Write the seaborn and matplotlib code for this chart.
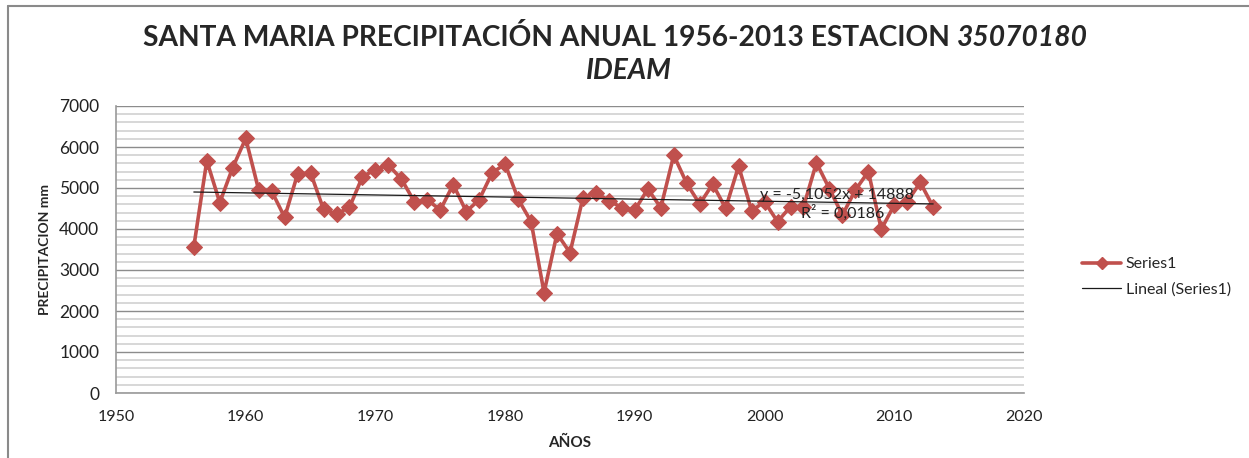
import numpy as np
import pandas as pd
import seaborn as sns
import matplotlib.pyplot as plt
from matplotlib.lines import Line2D

# --- DATA ---
years = list(range(1956, 2014))
precip_mm = [
    3570, 5665, 4645, 5500, 6210, 4950, 4925, 4285, 5340, 5370,
    4480, 4365, 4530, 5275, 5450, 5560, 5220, 4665, 4710, 4465,
    5085, 4425, 4715, 5370, 5585, 4730, 4180, 2450, 3890, 3420,
    4765, 4885, 4690, 4520, 4465, 4975, 4520, 5800, 5110, 4610,
    5095, 4505, 5535, 4445, 4665, 4180, 4545, 4540, 5615, 4980,
    4340, 4950, 5400, 3995, 4585, 4665, 5135, 4540,
]
trend_slope = -5.1052
trend_intercept = 14888
trend_r2 = 0.0186
x_ticks = [1950, 1960, 1970, 1980, 1990, 2000, 2010, 2020]
y_ticks = [0, 1000, 2000, 3000, 4000, 5000, 6000, 7000]
# --------------------------------------

sns.set_theme(style="white")
plt.rcParams['font.family'] = ['Lato', 'DejaVu Sans']

RED = '#C0504D'
W, H = 1249, 458

df = pd.DataFrame({'year': years, 'precip': precip_mm})
trend_x = np.array([years[0], years[-1]])
trend_y = trend_slope * trend_x + trend_intercept

fig = plt.figure(figsize=(W / 100, H / 100), dpi=100)
ax = fig.add_axes([116 / W, 1 - 393 / H, (1024 - 116) / W, (393 - 106) / H])

# gridlines: minor every 200, major every 1000
ax.set_yticks(np.arange(0, 7001, 200), minor=True)
ax.grid(True, which='minor', axis='y', color='#d4d4d4', linewidth=1.3)
ax.grid(True, which='major', axis='y', color='#8c8c8c', linewidth=1.0)
ax.set_axisbelow(True)

sns.lineplot(data=df, x='year', y='precip', ax=ax, color=RED, linewidth=2.6,
             marker='D', markersize=8.5, markeredgecolor=RED, label='Series1',
             legend=False)
ax.plot(trend_x, trend_y, color='#1a1a1a', linewidth=0.9, label='Lineal (Series1)')

ax.set_xlim(1950, 2020)
ax.set_ylim(0, 7000)
ax.set_xticks(x_ticks)
ax.set_yticks(y_ticks)
ax.tick_params(axis='both', which='minor', length=0)
ax.tick_params(axis='x', which='major', labelsize=11.5, colors='#aaaaaa',
               labelcolor='#222222', length=5, width=1, direction='out', pad=7)
ax.tick_params(axis='y', which='major', labelsize=12.5, colors='#888888',
               labelcolor='#222222', length=7, width=1, direction='out', pad=5)
for side in ['top', 'right']:
    ax.spines[side].set_visible(False)
for side in ['left', 'bottom']:
    ax.spines[side].set_color('#999999')
    ax.spines[side].set_linewidth(1.2)

ax.set_xlabel('AÑOS', fontsize=11, fontweight='bold', labelpad=9)
ax.set_ylabel('PRECIPITACION mm', fontsize=10, fontweight='bold', labelpad=6)

# trendline equation
ax.text(2005.6, 4830, f'y = {trend_slope:.4f}x + {trend_intercept}'.replace('.', ','),
        ha='center', va='center', fontsize=11.5, color='#222222')
ax.text(2006.0, 4390, f'R² = {trend_r2:.4f}'.replace('.', ','),
        ha='center', va='center', fontsize=11.5, color='#222222')

# title with italic parts; one size, fitted so line 1 spans the reference width
renderer = fig.canvas.get_renderer()
t1 = fig.text(0, 1 - 38 / H, 'SANTA MARIA PRECIPITACIÓN ANUAL 1956-2013 ESTACION',
              ha='left', va='center', fontsize=17, fontweight='bold')
t2 = fig.text(0, 1 - 38 / H, '35070180', ha='left', va='center',
              fontsize=17, fontweight='bold', style='italic')
gap = 6
w1 = t1.get_window_extent(renderer).width
w2 = t2.get_window_extent(renderer).width
scale = (1088 - 143 - gap) / (w1 + w2)
title_size = 17 * scale
t1.set_fontsize(title_size)
t2.set_fontsize(title_size)
t1.set_x(143 / W)
t2.set_x((143 + w1 * scale + gap) / W)
fig.text(629 / W, 1 - 71 / H, 'IDEAM', ha='center', va='center',
         fontsize=title_size, fontweight='bold', style='italic')

# legend
handles = [Line2D([], [], color=RED, linewidth=2.6, marker='D', markersize=6),
           Line2D([], [], color='#1a1a1a', linewidth=0.9)]
fig.legend(handles, ['Series1', 'Lineal (Series1)'], loc='center left',
           bbox_to_anchor=(1068 / W, 1 - 277 / H), frameon=False,
           fontsize=11.5, handlelength=2.4, handletextpad=0.3, labelspacing=0.7)

# chart area frame (top and left edges visible)
fig.add_artist(Line2D([8 / W, 1], [1 - 6 / H, 1 - 6 / H], color='#8a8a8a', linewidth=1.5))
fig.add_artist(Line2D([8 / W, 8 / W], [0, 1 - 6 / H], color='#8a8a8a', linewidth=1.5))

fig.savefig('out.png', dpi=100)
